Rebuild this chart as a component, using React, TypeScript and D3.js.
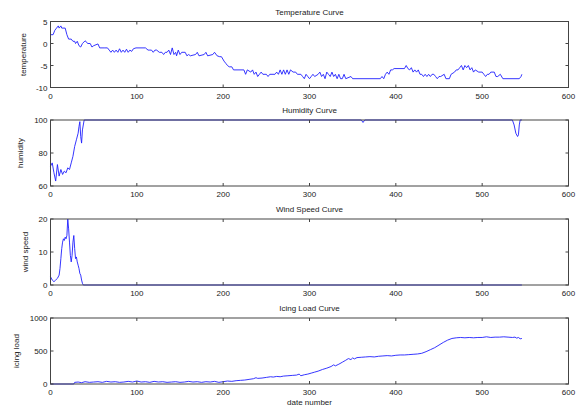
import * as d3 from 'd3'

// ---- data (index, value) ----
const tempIdx = [0,3,5,7,9,10,12,13,17,19,21,24,26,28,29,31,33,35,37,40,41,43,46,48,50,55,57,63,66,68,70,72,74,76,78,80,82,84,86,88,90,92,94,96,99,110,113,115,117,119,121,123,126,129,131,133,135,137,139,141,143,145,146,148,150,152,156,158,160,162,168,170,172,178,180,182,188,190,193,196,198,201,203,205,207,210,212,224,226,228,232,234,236,238,240,242,244,246,250,252,254,260,262,264,266,268,270,272,274,276,278,281,284,286,290,292,294,296,298,300,302,304,306,310,312,314,316,318,320,322,324,326,328,330,332,334,336,338,340,342,348,350,382,384,386,388,390,392,394,396,398,410,412,414,416,418,420,422,424,426,428,430,432,434,436,438,440,442,444,446,448,450,452,456,458,462,464,468,470,472,474,476,478,480,482,484,486,488,490,492,496,500,502,504,506,508,510,514,516,518,521,524,543,545,546]
const tempVal = [2,2,3,3.5,4,3.5,4,3.5,3.5,2,1,1,0.5,0.5,0,0.5,-0.5,-0.8,0,0.6,0.5,0,0,-0.8,-0.5,-0.1,-1,-1,-1,-1.5,-2,-1.5,-2,-1.5,-2,-1.2,-2,-1.5,-2,-1.3,-2,-1.5,-1.8,-1.2,-1,-1,-1.5,-1.5,-1.5,-2,-1.5,-1.5,-2,-2,-2.5,-2,-2,-1.5,-2.5,-1,-2.5,-2,-2.8,-1.5,-2.5,-2,-2,-2.8,-2.5,-2.8,-2.5,-2,-2.8,-2.5,-2,-2.8,-2.5,-2,-2.8,-3,-3,-4,-4.5,-5,-5.3,-5.3,-6,-6,-7,-6,-6.5,-6,-7,-6.5,-7.5,-7,-6.5,-7,-7,-7.5,-7,-7,-6.5,-7,-6,-7,-6,-7,-6,-7,-6,-6.5,-6.5,-7,-7,-7.5,-8,-7,-7.5,-8,-7.5,-7,-7.5,-7,-6.5,-7.5,-7,-8,-6.5,-7,-7.5,-6.5,-7.5,-7,-8,-7,-8,-8,-7,-8,-7.5,-8,-8,-7.5,-8,-7,-6.5,-7,-6,-6,-5.7,-5.7,-5,-5.7,-6,-5.5,-6.5,-6,-6.5,-6,-7,-7,-7.5,-7,-7.5,-7,-7.5,-7,-7,-7.5,-8,-7.5,-7.5,-7,-8,-8,-7,-6.5,-6,-6,-5.5,-5,-6,-5,-5.5,-5,-6,-5.5,-6.5,-6,-6.5,-6.5,-7,-7.5,-7,-7,-6.5,-6.5,-7.5,-7.5,-7,-8,-8,-7.5,-7]

const humIdx = [0,2,4,6,8,10,12,14,16,18,20,22,24,26,28,30,32,33,34,35,36,37,39,360,362,364,535,537,539,541,542,543,544,546]
const humVal = [72,74,68,63,73,66,70,67,69,68,71,70,74,78,84,88,92,96,99,90,86,94,100,100,98.5,100,100,97,92,90,91,97,100,100]

const windIdx = [0,2,4,6,8,10,11,12,13,14,15,16,17,18,19,20,21,22,23,24,25,26,27,28,29,30,31,32,33,34,35,36,37,38,546]
const windVal = [2.5,1.5,1,1.5,2,3,5,8,11,13,14,13.5,14.5,14,15,20,17,13,9,7,9,13,15,11,8,8.5,7,6,5,3.5,3,1.5,0.5,0,0]

const iceIdx = [0,27,28,32,36,40,45,50,55,60,65,70,75,80,85,90,95,100,105,110,115,120,125,130,135,140,145,150,155,160,165,170,175,180,185,190,195,200,205,210,215,220,225,230,235,238,240,245,250,255,258,262,266,270,275,280,285,288,290,294,298,302,306,310,315,320,325,328,330,334,338,342,345,348,350,352,355,360,365,370,375,380,385,390,395,400,405,410,415,420,425,430,435,440,445,450,455,460,465,470,475,480,485,490,495,500,505,510,515,520,525,530,535,538,540,542,544,546]
const iceVal = [0,0,25,30,20,35,25,30,35,25,40,30,35,25,30,40,30,45,30,35,25,40,30,35,25,30,35,25,30,40,30,35,25,35,30,40,25,35,45,40,50,55,60,70,80,95,85,90,100,110,105,115,110,120,125,130,135,150,125,140,150,165,180,195,220,240,265,290,275,300,330,360,385,370,395,380,400,405,410,415,410,420,425,430,425,435,440,440,445,450,455,465,490,520,550,590,630,665,690,700,705,700,705,700,705,705,715,705,710,710,715,710,705,710,695,705,685,690]

const xTicks = [0, 100, 200, 300, 400, 500, 600]

const panels = [
  { title: 'Temperature Curve', ylabel: 'temperature', idx: tempIdx, val: tempVal, domain: [-10, 5], ticks: [-10, -5, 0, 5], labelX: 26 },
  { title: 'Humidity Curve', ylabel: 'humidity', idx: humIdx, val: humVal, domain: [60, 100], ticks: [60, 80, 100], labelX: 23 },
  { title: 'Wind Speed Curve', ylabel: 'wind speed', idx: windIdx, val: windVal, domain: [0, 20], ticks: [0, 10, 20], labelX: 28 },
  { title: 'Icing Load Curve', ylabel: 'icing load', idx: iceIdx, val: iceVal, domain: [0, 1000], ticks: [0, 500, 1000], labelX: 19 },
]

const W = 581
const H = 410
const left = 50.5
const right = 568.5
const tops = [21.5, 120, 219, 318]
const ph = 66
const font = 'Liberation Sans, Arial, sans-serif'
const tk = 3

export default function App() {
  const x = d3.scaleLinear().domain([0, 600]).range([left, right])
  return (
    <svg width={W} height={H} style={{ position: 'absolute', left: 0, top: 0, background: '#fff' }}
      fontFamily={font} fontSize={8} fill="#222">
      {panels.map((p, i) => {
        const top = tops[i]
        const bottom = top + ph
        const y = d3.scaleLinear().domain(p.domain).range([bottom, top])
        const pts = p.idx.map((d, j) => [d, p.val[j]] as [number, number])
        const line = d3.line<[number, number]>().x(d => x(d[0])).y(d => y(d[1]))
        return (
          <g key={p.title}>
            <text x={(left + right) / 2} y={top - 7} textAnchor="middle">{p.title}</text>
            <text transform={`translate(${p.labelX},${(top + bottom) / 2}) rotate(-90)`} textAnchor="middle">{p.ylabel}</text>
            <path d={line(pts) || ''} fill="none" stroke="#1f1fff" strokeWidth={0.9} strokeLinejoin="round" />
            <rect x={left} y={top} width={right - left} height={ph} fill="none" stroke="#444" strokeWidth={1} />
            {xTicks.map(t => (
              <g key={'x' + t}>
                <line x1={x(t)} x2={x(t)} y1={bottom} y2={bottom - tk} stroke="#444" />
                <line x1={x(t)} x2={x(t)} y1={top} y2={top + tk} stroke="#444" />
                <text x={x(t)} y={bottom + 11} textAnchor="middle">{t}</text>
              </g>
            ))}
            {p.ticks.map(t => (
              <g key={'y' + t}>
                <line x1={left} x2={left + tk} y1={y(t)} y2={y(t)} stroke="#444" />
                <line x1={right} x2={right - tk} y1={y(t)} y2={y(t)} stroke="#444" />
                <text x={left - 3} y={y(t) + 3} textAnchor="end">{t}</text>
              </g>
            ))}
          </g>
        )
      })}
      <text x={(left + right) / 2} y={405} textAnchor="middle">date number</text>
    </svg>
  )
}
